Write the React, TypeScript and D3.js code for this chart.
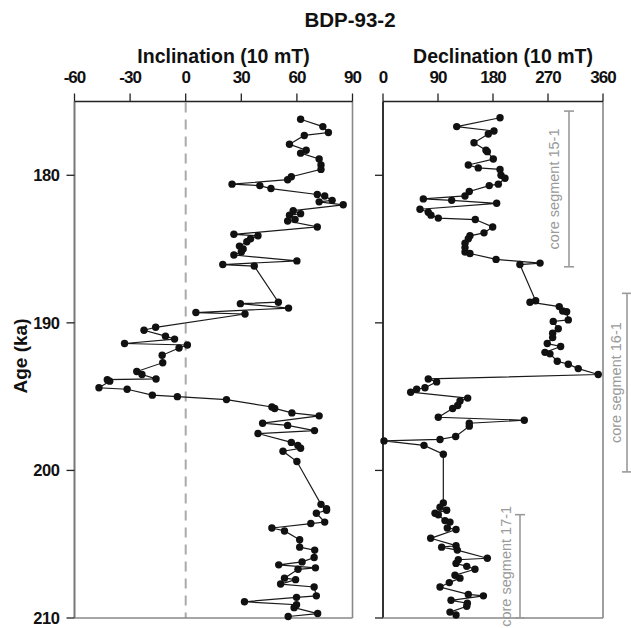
import React from "react";
import * as d3 from "d3";

// Age (ka) of each measured horizon and its inclination (degrees)
const incAge = [
  176.2, 176.7, 177.1, 177.3, 177.9, 178.3, 178.5, 178.9, 179.3, 179.6,
  180.1, 180.3, 180.6, 180.7, 180.9, 181.3, 181.4, 181.7, 181.8, 182.0,
  182.4, 182.6, 182.7, 183.0, 183.1, 183.5, 184.0, 184.1, 184.3, 184.5,
  184.8, 185.0, 185.2, 185.4, 185.8, 186.05, 186.15, 188.6, 188.7, 189.0,
  189.3, 189.4, 190.3, 190.5, 190.9, 191.1, 191.4, 191.5, 191.7, 192.2,
  192.7, 193.3, 193.5, 193.8, 193.85, 193.95, 194.4, 194.5, 194.9, 195.0,
  195.2, 195.7, 195.8, 196.1, 196.3, 196.8, 196.95, 197.3, 197.5, 198.1,
  198.3, 198.5, 198.7, 199.4, 202.3, 202.6, 202.7, 202.9, 203.5, 203.6,
  203.9, 204.1, 204.7, 205.2, 205.4, 205.9, 206.2, 206.4, 206.6, 206.7,
  207.3, 207.4, 207.7, 207.9, 208.5, 208.6, 208.9, 209.1, 209.3, 209.7,
  209.9,
];
const incValue = [
  62, 74, 77, 64, 56, 65, 62, 72, 73, 73,
  57, 55, 25, 40, 46, 71, 75, 79, 72, 85,
  58, 62, 56, 59, 55, 71, 26, 39, 35, 33,
  29, 31, 30, 26, 60, 20, 37, 50, 29.5, 55.5,
  5.5, 32, -16.2, -22.5, -10.9, -6, -33, 0.9, -3.6, -12.7,
  -12.4, -26.4, -23.6, -16, -42.3, -41, -46.8, -31.6, -18, -4.5,
  22, 46.5, 48, 57.3, 72, 41.5, 55, 69.5, 39, 57,
  60.5, 62, 52.5, 60, 73, 76, 76, 70.5, 75, 67.5,
  46.5, 53.3, 61.5, 61.5, 69.6, 69.3, 62.8, 50.2, 70, 60.6,
  53.3, 59.3, 51.2, 69.3, 70.5, 59.8, 31.7, 59.8, 58.5, 71.2,
  55.3,
];

// Age (ka) of each measured horizon and its declination (degrees)
const decAge = [
  176.1, 176.7, 177.0, 177.2, 177.8, 178.3, 178.4, 178.9, 179.3, 179.5,
  179.6, 180.0, 180.2, 180.6, 180.7, 181.1, 181.4, 181.6, 181.7, 181.9,
  182.3, 182.5, 182.7, 182.9, 183.0, 183.5, 183.9, 184.1, 184.3, 184.6,
  184.9, 185.2, 185.3, 185.7, 185.95, 186.05, 188.5, 188.6, 188.9, 189.2,
  189.25, 189.8, 189.9, 190.4, 190.7, 191.0, 191.4, 191.6, 192.0, 192.1,
  192.6, 192.8, 193.1, 193.5, 193.8, 194.0, 194.4, 194.5, 194.7, 195.1,
  195.3, 195.6, 195.8, 196.4, 196.6, 196.8, 197.0, 197.7, 197.9, 198.0,
  198.3, 198.9, 202.2, 202.5, 202.7, 202.9, 203.0, 203.4, 203.5, 203.9,
  204.0, 204.6, 205.1, 205.2, 205.4, 205.95, 206.05, 206.3, 206.5, 206.7,
  207.1, 207.3, 207.6, 207.9, 208.4, 208.5, 208.8, 209.0, 209.2, 209.6,
  209.8,
];
const decValue = [
  191.5, 120.6, 181.6, 172.3, 148.9, 168.5, 170.7, 180.5, 139.6, 155.9,
  191.5, 193.1, 199.6, 188.7, 173.9, 141.2, 134.2, 66, 112.4, 186,
  60.5, 74, 78.5, 90.5, 151, 179.5, 165.3, 142.3, 139.6, 134.2,
  134.2, 134.2, 142.3, 185, 257, 224, 249.8, 240.5, 288.4, 294,
  300.5, 303.2, 278.6, 286.8, 277.6, 277.6, 268.8, 290.7, 265, 273.2,
  285.2, 303.2, 319.5, 352.2, 74.1, 87.8, 68.7, 55.1, 45.3, 138.6,
  126, 122.2, 114, 90.5, 231.2, 141.2, 141.2, 118.9, 93.3, 1.6,
  67.1, 98.7, 98.7, 93.3, 104.2, 85.1, 90.5, 101.4, 109.6, 105.2,
  119.5, 78, 119.5, 96, 121.6, 170.7, 123.2, 119.5, 137, 150.5,
  117.8, 126, 108.5, 93.3, 139.6, 164.3, 111.3, 138, 137, 109.6,
  119.5,
];

// Tick values
const ageTicks = [180, 190, 200, 210];
const incTicks = [-60, -30, 0, 30, 60, 90];
const decTicks = [0, 90, 180, 270, 360];

// Core segments: name, top age, bottom age
const segName = ["core segment 15-1", "core segment 16-1", "core segment 17-1"];
const segTop = [175.65, 188.0, 203.0];
const segBottom = [186.2, 200.1, 210.0];

const W = 631;
const H = 628;
const FONT = "'Liberation Sans', Arial, Helvetica, sans-serif";

export default function App() {
  const yTop = 101.5;
  const yBottom = 618;
  const y = d3.scaleLinear().domain([175, 210]).range([yTop, yBottom]);
  const xInc = d3.scaleLinear().domain([-60, 90]).range([74.5, 352.5]);
  const xDec = d3.scaleLinear().domain([0, 360]).range([383, 603]);

  const incPts: [number, number][] = incAge.map((a, i) => [xInc(incValue[i]), y(a)]);
  const decPts: [number, number][] = decAge.map((a, i) => [xDec(decValue[i]), y(a)]);
  const line = d3.line<[number, number]>().x((d) => d[0]).y((d) => d[1]);

  const axisStroke = "#222";
  const segColor = "#9a9a9a";

  const segX = [569, 627, 520];
  const segLabelX = [559, 621, 511];

  const panel = (
    x: d3.ScaleLinear<number, number>,
    ticks: number[],
    title: string,
    pts: [number, number][],
    leftLabels: boolean,
    leftStroke: string
  ) => {
    const [x0, x1] = x.range();
    return (
      <g>
        {/* frame */}
        <line x1={x0} x2={x0} y1={yTop} y2={yBottom} stroke={leftStroke} strokeWidth={2} />
        <line x1={x1} x2={x1} y1={yTop} y2={yBottom} stroke="#888" strokeWidth={1.6} />
        <line x1={x0} x2={x1} y1={yBottom} y2={yBottom} stroke="#888" strokeWidth={1.6} />
        {/* top axis */}
        <line x1={x0} x2={x1} y1={yTop} y2={yTop} stroke={axisStroke} strokeWidth={1.6} />
        {ticks.map((t) => (
          <g key={t}>
            <line x1={x(t)} x2={x(t)} y1={yTop} y2={yTop - 8} stroke={axisStroke} strokeWidth={1.3} />
            <text
              x={x(t)}
              y={83}
              textAnchor="middle"
              fontFamily={FONT}
              fontWeight="bold"
              fontSize={17}
              letterSpacing={-1}
              fill="#111"
            >
              {t}
            </text>
          </g>
        ))}
        <text
          x={(x0 + x1) / 2 + 10}
          y={63}
          textAnchor="middle"
          fontFamily={FONT}
          fontWeight="bold"
          fontSize={19.5}
          fill="#111"
        >
          {title}
        </text>
        {ageTicks.map((t) => (
          <g key={t}>
            <line x1={x0 - 8} x2={x0} y1={y(t)} y2={y(t)} stroke={axisStroke} strokeWidth={1.3} />
            {leftLabels && (
              <text
                x={x0 - 15}
                y={y(t) + 6}
                textAnchor="end"
                fontFamily={FONT}
                fontWeight="bold"
                fontSize={16.5}
                letterSpacing={-0.4}
                fill="#111"
              >
                {t}
              </text>
            )}
          </g>
        ))}
        <path d={line(pts) ?? ""} fill="none" stroke="#1a1a1a" strokeWidth={1.2} />
        {pts.map((p, i) => (
          <circle key={i} cx={p[0]} cy={p[1]} r={3.7} fill="#111" />
        ))}
      </g>
    );
  };

  return (
    <svg
      width={W}
      height={H}
      viewBox={`0 0 ${W} ${H}`}
      style={{ position: "absolute", left: 0, top: 0, background: "#fff" }}
    >
      <rect x={0} y={0} width={W} height={H} fill="#fff" />
      <text
        x={350}
        y={27}
        textAnchor="middle"
        fontFamily={FONT}
        fontWeight="bold"
        fontSize={20.5}
        fill="#111"
      >
        BDP-93-2
      </text>

      {/* zero-inclination reference */}
      <line
        x1={xInc(0)}
        x2={xInc(0)}
        y1={yTop + 1}
        y2={yBottom}
        stroke="#aaa"
        strokeWidth={2}
        strokeDasharray="10,7"
      />

      {panel(xInc, incTicks, "Inclination (10 mT)", incPts, true, "#777")}
      {panel(xDec, decTicks, "Declination (10 mT)", decPts, false, "#333")}

      <text
        transform={`translate(27, 356) rotate(-90)`}
        textAnchor="middle"
        fontFamily={FONT}
        fontWeight="bold"
        fontSize={19}
        fill="#111"
      >
        Age (ka)
      </text>

      {segName.map((name, i) => {
        const y0 = y(segTop[i]);
        const y1 = y(segBottom[i]);
        const sx = segX[i];
        return (
          <g key={name}>
            <line x1={sx} x2={sx} y1={y0} y2={y1} stroke={segColor} strokeWidth={1.6} />
            <line x1={sx - 5} x2={sx + 5} y1={y0} y2={y0} stroke={segColor} strokeWidth={1.6} />
            <line x1={sx - 5} x2={sx + 5} y1={y1} y2={y1} stroke={segColor} strokeWidth={1.6} />
            <text
              transform={`translate(${segLabelX[i]}, ${(y0 + y1) / 2}) rotate(-90)`}
              textAnchor="middle"
              fontFamily={FONT}
              fontSize={14.5}
              fill={segColor}
            >
              {name}
            </text>
          </g>
        );
      })}
    </svg>
  );
}
